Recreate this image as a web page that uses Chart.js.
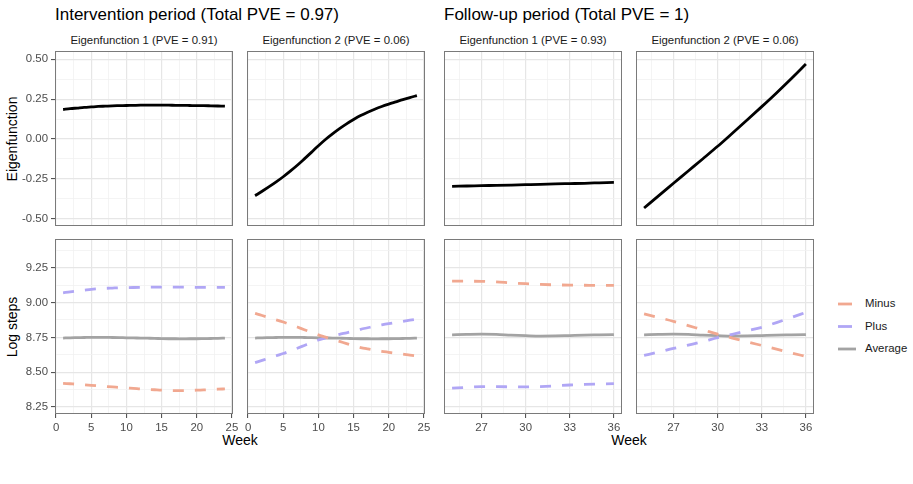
<!DOCTYPE html>
<html>
<head>
<meta charset="utf-8">
<script src="https://cdn.jsdelivr.net/npm/chart.js@4/dist/chart.umd.min.js"></script>
<style>
  html, body { margin: 0; padding: 0; background: #ffffff; }
  #wrap { position: relative; width: 913px; height: 484px; overflow: hidden; background: #ffffff;
          font-family: "Liberation Sans", Arial, sans-serif; }
  #wrap canvas { position: absolute; }
  .t { position: absolute; white-space: nowrap; line-height: 1; }
</style>
</head>
<body>
<div id="wrap">
  <div class="t" style="left:55px; top:14px; transform:translateY(-50%); font-size:17px; color:#000;">Intervention period (Total PVE = 0.97)</div>
  <div class="t" style="left:444px; top:14px; transform:translateY(-50%); font-size:17px; color:#000;">Follow-up period (Total PVE = 1)</div>

  <div class="t" style="left:144px; top:41px; transform:translate(-50%,-50%); font-size:11.4px; color:#1A1A1A;">Eigenfunction 1 (PVE = 0.91)</div>
  <div class="t" style="left:336px; top:41px; transform:translate(-50%,-50%); font-size:11.4px; color:#1A1A1A;">Eigenfunction 2 (PVE = 0.06)</div>
  <div class="t" style="left:533px; top:41px; transform:translate(-50%,-50%); font-size:11.4px; color:#1A1A1A;">Eigenfunction 1 (PVE = 0.93)</div>
  <div class="t" style="left:725px; top:41px; transform:translate(-50%,-50%); font-size:11.4px; color:#1A1A1A;">Eigenfunction 2 (PVE = 0.06)</div>

  <div class="t" style="left:12px; top:138.5px; transform:translate(-50%,-50%) rotate(-90deg); font-size:14px; color:#000;">Eigenfunction</div>
  <div class="t" style="left:12px; top:326.5px; transform:translate(-50%,-50%) rotate(-90deg); font-size:14px; color:#000;">Log steps</div>

  <div class="t" style="left:240px; top:440px; transform:translate(-50%,-50%); font-size:14px; color:#000;">Week</div>
  <div class="t" style="left:629px; top:440px; transform:translate(-50%,-50%); font-size:14px; color:#000;">Week</div>

  <svg style="position:absolute; left:0; top:0;" width="913" height="484">
    <line x1="838" y1="304" x2="852" y2="304" stroke="#F1A890" stroke-width="2.8"/>
    <line x1="838" y1="326.5" x2="852" y2="326.5" stroke="#B0A6F5" stroke-width="2.8"/>
    <line x1="838" y1="349" x2="856" y2="349" stroke="#A3A3A3" stroke-width="2.8"/>
  </svg>
  <div class="t" style="left:865px; top:304px; transform:translateY(-50%); font-size:11.4px; color:#1A1A1A;">Minus</div>
  <div class="t" style="left:865px; top:326.5px; transform:translateY(-50%); font-size:11.4px; color:#1A1A1A;">Plus</div>
  <div class="t" style="left:865px; top:349px; transform:translateY(-50%); font-size:11.4px; color:#1A1A1A;">Average</div>
</div>

<script>
// ---------------- DATA ----------------
const weeksIntervention = [1,2,3,4,5,6,7,8,9,10,11,12,13,14,15,16,17,18,19,20,21,22,23,24];
const weeksFollowUp = [25,26,27,28,29,30,31,32,33,34,35,36];

const eigen1Intervention = [0.185,0.190,0.194,0.198,0.201,0.204,0.206,0.208,0.209,0.210,0.211,0.212,0.212,0.212,0.212,0.212,0.211,0.211,0.210,0.209,0.209,0.208,0.207,0.206];
const eigen2Intervention = [-0.356,-0.328,-0.299,-0.269,-0.237,-0.202,-0.165,-0.125,-0.084,-0.042,-0.003,0.032,0.065,0.095,0.122,0.147,0.168,0.187,0.204,0.219,0.233,0.247,0.260,0.272];
const eigen1FollowUp = [-0.297,-0.295,-0.293,-0.291,-0.289,-0.287,-0.285,-0.282,-0.280,-0.278,-0.275,-0.272];
const eigen2FollowUp = [-0.433,-0.355,-0.278,-0.201,-0.124,-0.046,0.036,0.119,0.203,0.289,0.378,0.470];

const averageIntervention = [8.745,8.747,8.748,8.749,8.750,8.750,8.750,8.749,8.748,8.747,8.746,8.745,8.744,8.743,8.741,8.740,8.740,8.739,8.740,8.740,8.741,8.742,8.743,8.745];
const minusIntervention1 = [8.420,8.417,8.414,8.410,8.406,8.402,8.398,8.394,8.391,8.387,8.384,8.380,8.377,8.374,8.371,8.369,8.368,8.368,8.369,8.371,8.373,8.375,8.378,8.380];
const plusIntervention1 = [9.070,9.077,9.083,9.089,9.095,9.099,9.102,9.104,9.106,9.107,9.108,9.109,9.110,9.111,9.111,9.111,9.111,9.110,9.110,9.109,9.109,9.109,9.109,9.109];
const minusIntervention2 = [8.922,8.907,8.891,8.876,8.860,8.842,8.824,8.805,8.787,8.768,8.752,8.736,8.721,8.705,8.690,8.677,8.667,8.658,8.650,8.643,8.636,8.630,8.623,8.617];
const plusIntervention2 = [8.569,8.585,8.601,8.618,8.634,8.653,8.672,8.692,8.712,8.731,8.745,8.759,8.772,8.783,8.795,8.808,8.819,8.830,8.840,8.849,8.857,8.865,8.873,8.881];

const averageFollowUp = [8.768,8.771,8.773,8.771,8.766,8.762,8.759,8.760,8.763,8.766,8.768,8.770];
const minusFollowUp1 = [9.154,9.153,9.152,9.148,9.141,9.135,9.130,9.127,9.125,9.124,9.123,9.123];
const plusFollowUp1 = [8.385,8.391,8.396,8.396,8.395,8.394,8.397,8.402,8.408,8.412,8.415,8.418];
const minusFollowUp2 = [8.918,8.892,8.865,8.834,8.804,8.773,8.745,8.718,8.692,8.666,8.639,8.613];
const plusFollowUp2 = [8.620,8.645,8.671,8.694,8.720,8.748,8.772,8.797,8.822,8.856,8.892,8.929];

const eigenTicks = [-0.5,-0.25,0,0.25,0.5];
const logStepTicks = [8.25,8.5,8.75,9,9.25];
const weekTicksIntervention = [0,5,10,15,20,25];
const weekTicksFollowUp = [27,30,33,36];

const seriesNames = ['Minus','Plus','Average'];

// ---------------- STYLE / LAYOUT ----------------
const FONT = '"Liberation Sans", Arial, sans-serif';
const COLORS = { Minus: '#F1A890', Plus: '#B0A6F5', Average: '#A3A3A3', eigen: '#000000' };
const PANEL_W = 178, PANEL_H = 175;
const COLS_X = [55, 247, 444, 636];
const ROWS_Y = [51, 239];
const Y_AXIS_W = 55, X_AXIS_H = 24, PAD = 10;

const RANGES = {
  eigen: [-0.546, 0.552],
  logs: [8.2, 9.456],
  xI: [-0.15, 25.15],
  xF: [24.45, 36.55]
};

function gridTicks(majors, min, max) {
  const step = majors[1] - majors[0];
  const list = majors.map(v => ({ v, major: true }));
  for (let i = -1; i < majors.length; i++) list.push({ v: majors[0] + (i + 0.5) * step, major: false });
  return list.filter(t => t.v >= min - 1e-9 && t.v <= max + 1e-9).sort((a, b) => a.v - b.v);
}
function isMajorIn(majors, v) { return majors.some(m => Math.abs(m - v) < 1e-6); }

function scaleCfg(axis, majors, range, showLabels, fmt) {
  const list = gridTicks(majors, range[0], range[1]);
  return {
    type: 'linear',
    min: range[0], max: range[1],
    afterBuildTicks: s => { s.ticks = list.map(t => ({ value: t.v })); },
    afterFit: s => {
      if (axis === 'x') s.height = showLabels ? X_AXIS_H : 0; else s.width = showLabels ? Y_AXIS_W : 0;
      s.paddingLeft = 0; s.paddingRight = 0; s.paddingTop = 0; s.paddingBottom = 0;
    },
    ticks: {
      display: showLabels, autoSkip: false, maxRotation: 0, minRotation: 0, padding: 3,
      color: '#4D4D4D', font: { family: FONT, size: 11.4 },
      callback: v => isMajorIn(majors, v) ? fmt(v) : ''
    },
    grid: {
      drawTicks: showLabels, tickLength: 4,
      color: c => (c.tick && isMajorIn(majors, c.tick.value)) ? '#E6E6E6' : '#F1F1F1',
      lineWidth: c => (c.tick && isMajorIn(majors, c.tick.value)) ? 1.2 : 0.8,
      tickColor: c => (c.tick && isMajorIn(majors, c.tick.value)) ? '#444444' : 'rgba(0,0,0,0)',
      tickWidth: 1
    },
    border: { display: false }
  };
}

const panelBorder = {
  id: 'panelBorder',
  afterDatasetsDraw(chart) {
    const { ctx, chartArea: a } = chart;
    ctx.save();
    ctx.strokeStyle = '#7A7A7A';
    ctx.lineWidth = 1;
    ctx.strokeRect(Math.round(a.left) + 0.5, Math.round(a.top) + 0.5,
                   Math.round(a.right - a.left) - 1, Math.round(a.bottom - a.top) - 1);
    ctx.restore();
  }
};

function toXY(xs, ys) { return xs.map((x, i) => ({ x, y: ys[i] })); }

function makePanel(row, col, weeks, seriesList, yMajors, yRange, xMajors, xRange, yFmt) {
  const showY = col === 0, showX = row === 1;
  const yw = showY ? Y_AXIS_W : 0, xh = showX ? X_AXIS_H : 0;
  const cv = document.createElement('canvas');
  const W = PANEL_W + yw + 2 * PAD, H = PANEL_H + xh + 2 * PAD;
  cv.width = W; cv.height = H;
  cv.style.width = W + 'px'; cv.style.height = H + 'px';
  cv.style.left = (COLS_X[col] - yw - PAD) + 'px';
  cv.style.top = (ROWS_Y[row] - PAD) + 'px';
  document.getElementById('wrap').appendChild(cv);

  const datasets = seriesList.map(s => ({
    label: s.name,
    data: toXY(weeks, s.values),
    borderColor: s.color,
    borderWidth: 2.8,
    borderDash: s.dash || [],
    borderCapStyle: 'butt',
    pointRadius: 0,
    pointHoverRadius: 0,
    fill: false,
    cubicInterpolationMode: 'monotone',
    order: s.order
  }));

  new Chart(cv, {
    type: 'line',
    data: { datasets },
    options: {
      responsive: false, animation: false, devicePixelRatio: 1,
      layout: { padding: PAD },
      plugins: { legend: { display: false }, tooltip: { enabled: false }, title: { display: false } },
      events: [],
      scales: {
        x: scaleCfg('x', xMajors, xRange, showX, v => String(v)),
        y: scaleCfg('y', yMajors, yRange, showY, yFmt)
      }
    },
    plugins: [panelBorder]
  });
}

const fmt2 = v => v.toFixed(2);
const DASH = [11, 11];

// Top row: eigenfunctions
makePanel(0, 0, weeksIntervention, [{ name: 'Eigenfunction 1', values: eigen1Intervention, color: COLORS.eigen }],
  eigenTicks, RANGES.eigen, weekTicksIntervention, RANGES.xI, fmt2);
makePanel(0, 1, weeksIntervention, [{ name: 'Eigenfunction 2', values: eigen2Intervention, color: COLORS.eigen }],
  eigenTicks, RANGES.eigen, weekTicksIntervention, RANGES.xI, fmt2);
makePanel(0, 2, weeksFollowUp, [{ name: 'Eigenfunction 1', values: eigen1FollowUp, color: COLORS.eigen }],
  eigenTicks, RANGES.eigen, weekTicksFollowUp, RANGES.xF, fmt2);
makePanel(0, 3, weeksFollowUp, [{ name: 'Eigenfunction 2', values: eigen2FollowUp, color: COLORS.eigen }],
  eigenTicks, RANGES.eigen, weekTicksFollowUp, RANGES.xF, fmt2);

// Bottom row: mean +/- eigenfunction
function bottomSeries(minus, plus, avg) {
  return [
    { name: seriesNames[0], values: minus, color: COLORS.Minus, dash: DASH, order: 1 },
    { name: seriesNames[1], values: plus, color: COLORS.Plus, dash: DASH, order: 2 },
    { name: seriesNames[2], values: avg, color: COLORS.Average, order: 3 }
  ];
}
makePanel(1, 0, weeksIntervention, bottomSeries(minusIntervention1, plusIntervention1, averageIntervention),
  logStepTicks, RANGES.logs, weekTicksIntervention, RANGES.xI, fmt2);
makePanel(1, 1, weeksIntervention, bottomSeries(minusIntervention2, plusIntervention2, averageIntervention),
  logStepTicks, RANGES.logs, weekTicksIntervention, RANGES.xI, fmt2);
makePanel(1, 2, weeksFollowUp, bottomSeries(minusFollowUp1, plusFollowUp1, averageFollowUp),
  logStepTicks, RANGES.logs, weekTicksFollowUp, RANGES.xF, fmt2);
makePanel(1, 3, weeksFollowUp, bottomSeries(minusFollowUp2, plusFollowUp2, averageFollowUp),
  logStepTicks, RANGES.logs, weekTicksFollowUp, RANGES.xF, fmt2);
</script>
</body>
</html>
